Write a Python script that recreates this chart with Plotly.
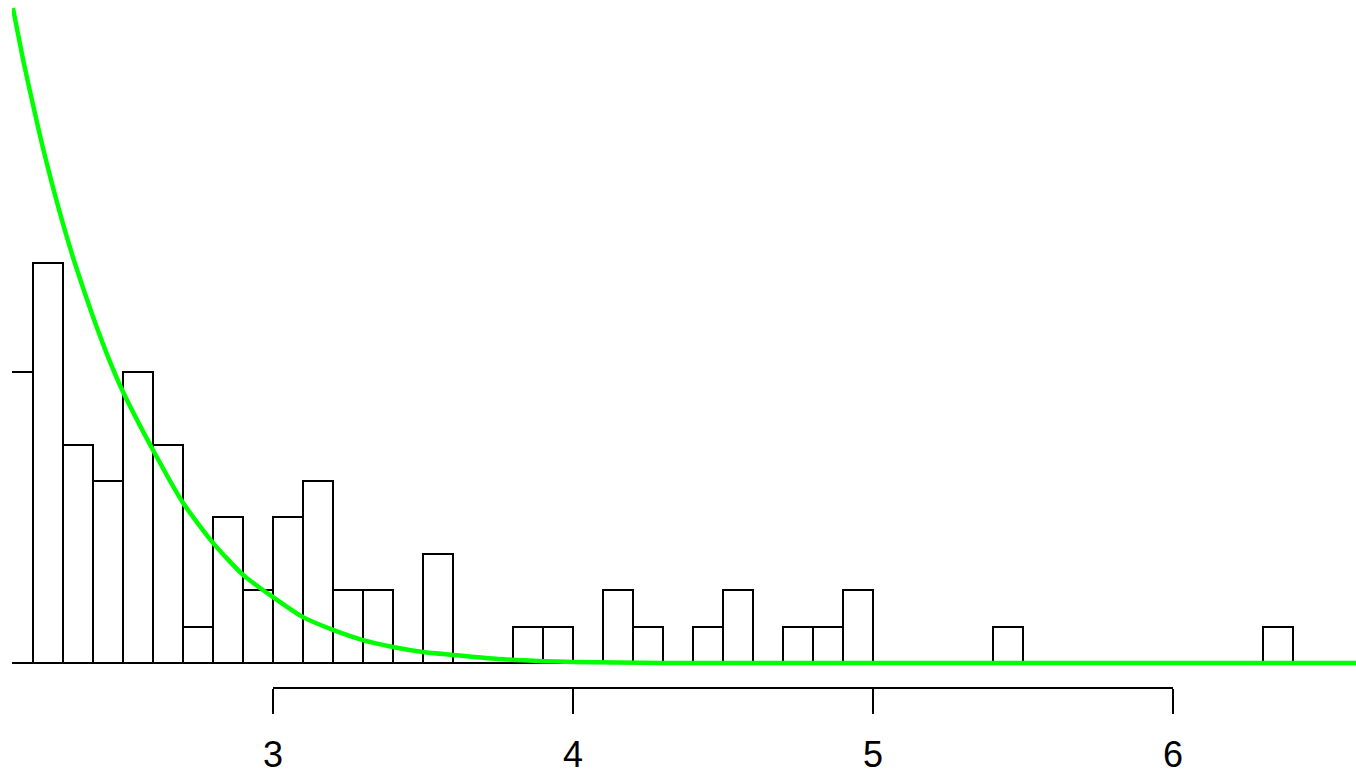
import plotly.graph_objects as go

# Histogram bins (left edges) and counts
bin_left = [2.2, 2.3, 2.4, 2.5, 2.6, 2.7, 2.8, 2.9, 3.0, 3.1, 3.2, 3.3, 3.4, 3.5,
            3.6, 3.7, 3.8, 3.9, 4.0, 4.1, 4.2, 4.3, 4.4, 4.5, 4.6, 4.7, 4.8, 4.9,
            5.0, 5.1, 5.2, 5.3, 5.4, 5.5, 5.6, 5.7, 5.8, 5.9, 6.0, 6.1, 6.2, 6.3]
counts = [11, 6, 5, 8, 6, 1, 4, 2, 4, 5, 2, 2, 0, 3,
          0, 0, 1, 1, 0, 2, 1, 0, 1, 2, 0, 1, 1, 2,
          0, 0, 0, 0, 1, 0, 0, 0, 0, 0, 0, 0, 0, 1]
bin_width = 0.1

# Fitted density curve (scaled to count units)
curve_x = [2.133, 2.167, 2.2, 2.233, 2.267, 2.3, 2.333, 2.367, 2.4, 2.45, 2.5,
           2.6, 2.7, 2.8, 2.9, 3.0, 3.1, 3.2, 3.3, 3.4, 3.5, 3.6, 3.75, 3.9,
           4.0, 4.15, 4.3, 4.6, 5.5, 6.61]
curve_y = [17.99, 16.57, 15.33, 14.15, 13.05, 12.06, 11.15, 10.30, 9.51, 8.41, 7.45,
           5.85, 4.40, 3.30, 2.42, 1.81, 1.26, 0.91, 0.63, 0.44, 0.30, 0.22, 0.11, 0.05,
           0.03, 0.01, 0.0, 0.0, 0.0, 0.0]

x_ticks = [3, 4, 5, 6]
x_tick_labels = ["3", "4", "5", "6"]
y_ticks = [8]

x_range = [2.13, 6.61]
y_range = [-0.687, 18.21]

centers = [b + bin_width / 2 for b in bin_left]

fig = go.Figure()
fig.add_trace(go.Bar(
    x=centers, y=counts, width=bin_width,
    marker=dict(color="white", line=dict(color="black", width=2)),
    hoverinfo="skip",
))
fig.add_trace(go.Scatter(
    x=curve_x, y=curve_y, mode="lines",
    line=dict(color="#00FF00", width=4.5, shape="spline", smoothing=0.6),
    hoverinfo="skip",
))

# x axis line spanning first to last tick (R style)
fig.add_shape(type="line", xref="x", yref="paper",
              x0=min(x_ticks), x1=max(x_ticks), y0=0, y1=0,
              line=dict(color="black", width=2))

fig.update_layout(
    width=1356, height=773,
    margin=dict(l=12, r=0, t=0, b=85),
    paper_bgcolor="white", plot_bgcolor="white",
    showlegend=False,
    bargap=0,
    font=dict(family="Liberation Sans, Arial, sans-serif", color="black"),
)
fig.update_xaxes(
    range=x_range, showgrid=False, zeroline=False, showline=False,
    automargin=False,
    tickmode="array", tickvals=x_ticks, ticktext=x_tick_labels,
    ticks="outside", ticklen=25, tickwidth=2, tickcolor="black",
    ticklabelstandoff=10,
    tickfont=dict(size=36, family="Liberation Sans, Arial, sans-serif"),
)
fig.update_yaxes(
    range=y_range, showgrid=False, showline=False, automargin=False,
    zeroline=True, zerolinecolor="black", zerolinewidth=2,
    tickmode="array", tickvals=y_ticks, ticktext=[""],
    ticks="inside", ticklen=21, tickwidth=2, tickcolor="black",
    showticklabels=False,
)

fig.write_html("out.html", config={"displayModeBar": False},
               post_script="document.body.style.margin='0';")
